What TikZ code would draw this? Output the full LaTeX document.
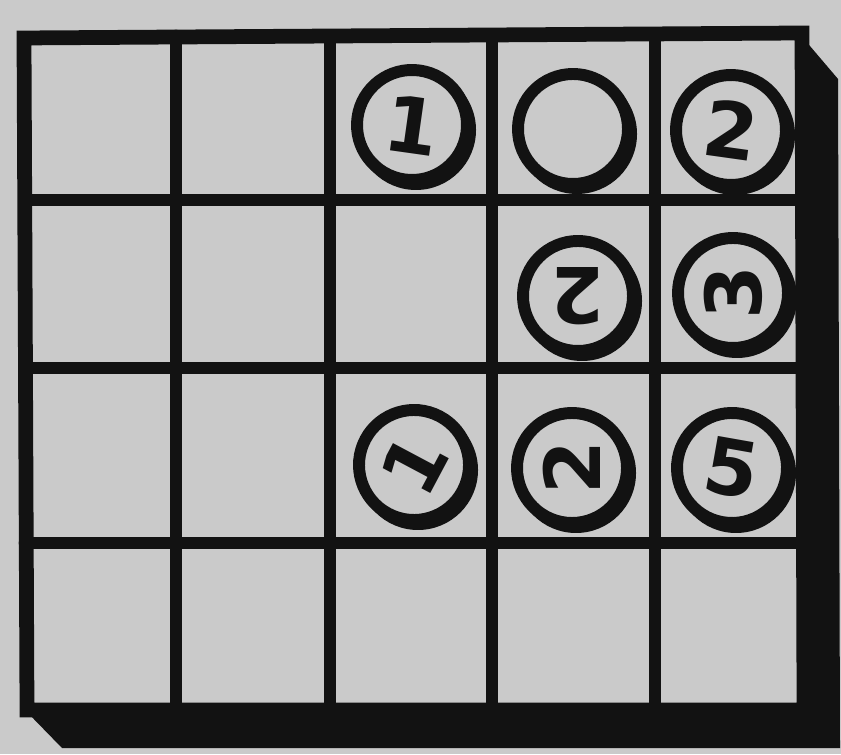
\documentclass[tikz,border=0pt]{standalone}
\usepackage{fontspec}
\setsansfont{DejaVu Sans}
\definecolor{paper}{RGB}{202,202,202}
\definecolor{ink}{RGB}{18,18,18}
\tikzset{
  coin/.style={circle, draw=ink, fill=paper, line width=3.4pt, minimum size=1.1cm,
    inner sep=0pt, text=ink, font=\fontsize{22}{22}\selectfont\sffamily\bfseries},
  gridline/.style={ink, line width=3.6pt, line cap=round}
}
\begin{document}
\begin{tikzpicture}
	
	\useasboundingbox[fill=paper] (0,0) rectangle (8.41,7.54);
	
	% Ombre
	\fill[ink] (7.98,7.22) -- (8.38,6.75) -- (8.40,0.06) -- (0.62,0.06)
	-- (0.25,0.44) -- (8.04,0.44) -- cycle;
	
	% Cadre
	\draw[gridline, line width=4.2pt] (0.24,7.16) -- (8.02,7.21) -- (8.04,0.44) -- (0.27,0.44) -- cycle;
	
	% Lignes
	\foreach \x in {1.76,3.30,4.92,6.55}
	\draw[gridline] (\x,7.18) -- (\x,0.44);
	\foreach \y in {5.54,3.86,2.11}
	\draw[gridline] (0.25,\y) -- (8.03,\y);
	
	% Pions
	\foreach \x/\y/\r/\n/\t in {4.12/6.29/-8/a/1, 5.73/6.25/0/b/, 7.31/6.24/-8/c/2,
		5.78/4.58/180/d/2, 7.33/4.61/90/e/3,
		4.14/2.89/62/f/1, 5.72/2.86/90/g/2, 7.32/2.86/-10/h/5}{
		\fill[ink] (\x+0.04,\y-0.05) circle (0.6);
		\node[coin, rotate=\r] (pion\n) at (\x,\y) {\t};
	}
	
\end{tikzpicture}
\end{document}
